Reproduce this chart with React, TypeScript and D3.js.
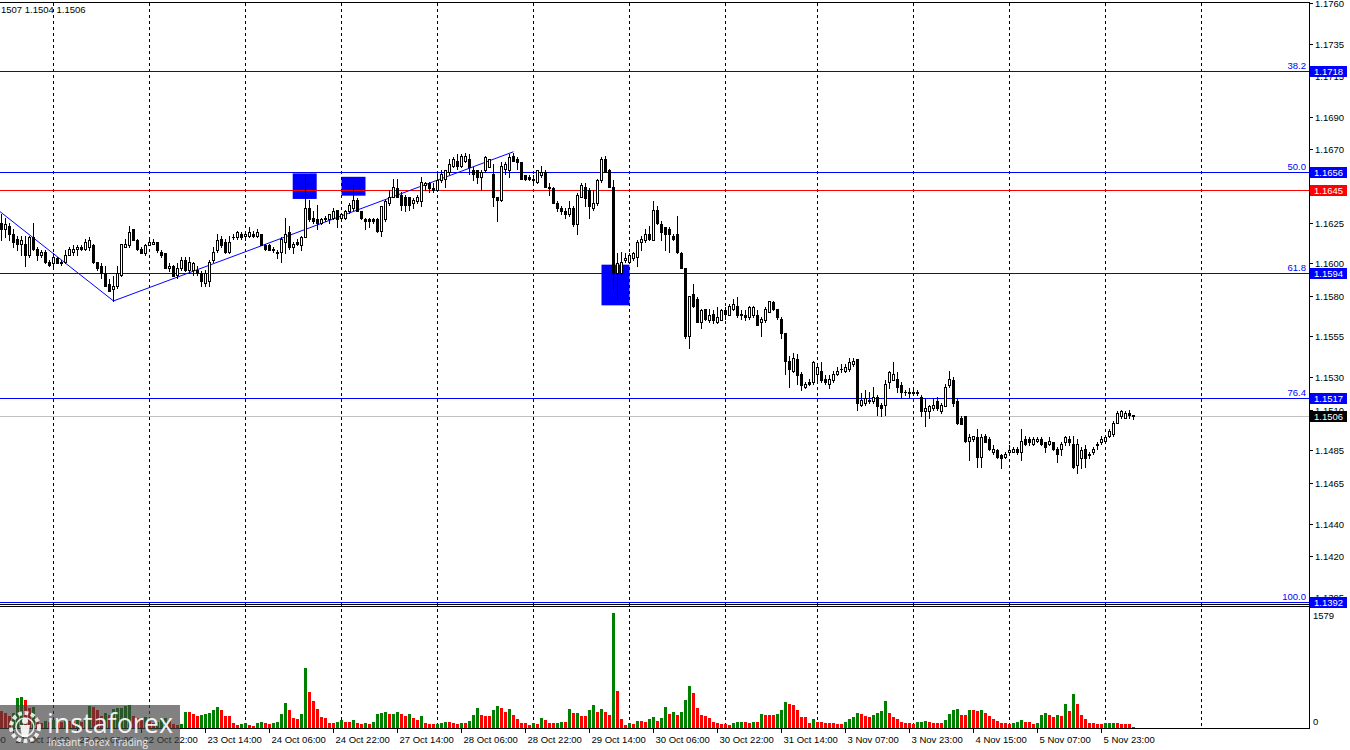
import React from "react";
import * as d3 from "d3";

// ---- OHLC data (H1 bars, index 0 = 21 Oct 11:00) ----
const opens = [
  1.1625,1.1621,1.1623,1.1618,1.1615,1.1612,1.1612,1.1605,1.1616,1.1609,
  1.1605,1.1607,1.1601,1.1600,1.1603,1.1601,1.1601,1.1605,1.1607,1.1609,
  1.1610,1.1609,1.1610,1.1611,1.1601,1.1598,1.1594,1.1587,1.1584,1.1586,
  1.1593,1.1610,1.1611,1.1621,1.1614,1.1609,1.1606,1.1611,1.1612,1.1613,
  1.1607,1.1606,1.1597,1.1598,1.1593,1.1597,1.1602,1.1596,1.1596,1.1596,
  1.1594,1.1588,1.1589,1.1602,1.1608,1.1615,1.1613,1.1607,1.1616,1.1616,
  1.1618,1.1617,1.1617,1.1618,1.1617,1.1618,1.1611,1.1611,1.1609,1.1607,
  1.1607,1.1613,1.1619,1.1610,1.1613,1.1611,1.1616,1.1634,1.1628,1.1627,
  1.1625,1.1627,1.1627,1.1628,1.1633,1.1628,1.1628,1.1632,1.1634,1.1639,
  1.1632,1.1627,1.1627,1.1627,1.1627,1.1620,1.1627,1.1637,1.1641,1.1646,
  1.1642,1.1641,1.1641,1.1637,1.1638,1.1638,1.1648,1.1649,1.1646,1.1645,
  1.1651,1.1652,1.1656,1.1660,1.1663,1.1660,1.1663,1.1664,1.1657,1.1657,
  1.1653,1.1657,1.1659,1.1655,1.1641,1.1639,1.1658,1.1657,1.1666,1.1664,
  1.1662,1.1654,1.1653,1.1652,1.1650,1.1654,1.1656,1.1647,1.1646,1.1637,
  1.1634,1.1632,1.1630,1.1634,1.1624,1.1641,1.1647,1.1645,1.1634,1.1637,
  1.1651,1.1664,1.1657,1.1647,1.1594,1.1594,1.1602,1.1601,1.1603,1.1604,
  1.1613,1.1614,1.1618,1.1614,1.1633,1.1624,1.1622,1.1621,1.1617,1.1618,
  1.1606,1.1597,1.1555,1.1581,1.1578,1.1564,1.1572,1.1565,1.1569,1.1564,
  1.1565,1.1571,1.1568,1.1572,1.1574,1.1569,1.1568,1.1567,1.1568,1.1568,
  1.1564,1.1565,1.1570,1.1576,1.1572,1.1566,1.1557,1.1540,1.1534,1.1541,
  1.1532,1.1524,1.1527,1.1527,1.1532,1.1534,1.1529,1.1526,1.1528,1.1532,
  1.1535,1.1534,1.1535,1.1538,1.1541,1.1513,1.1514,1.1516,1.1515,1.1518,
  1.1513,1.1513,1.1527,1.1528,1.1529,1.1525,1.1521,1.1521,1.1520,1.1521,
  1.1518,1.1509,1.1509,1.1511,1.1515,1.1509,1.1512,1.1525,1.1528,1.1515,
  1.1505,1.1506,1.1491,1.1492,1.1493,1.1481,1.1494,1.1492,1.1484,1.1485,
  1.1482,1.1481,1.1484,1.1484,1.1486,1.1484,1.1492,1.1492,1.1489,1.1491,
  1.1492,1.1490,1.1489,1.1490,1.1486,1.1486,1.1490,1.1492,1.1489,1.1476,
  1.1480,1.1486,1.1483,1.1484,1.1488,1.1490,1.1491,1.1494,1.1495,1.1502,
  1.1506,1.1505,1.1508,1.1507,
];
const highs = [
  1.1630,1.1628,1.1625,1.1621,1.1617,1.1617,1.1617,1.1617,1.1625,1.1610,
  1.1608,1.1608,1.1602,1.1606,1.1604,1.1602,1.1608,1.1610,1.1611,1.1611,
  1.1611,1.1615,1.1616,1.1612,1.1601,1.1600,1.1598,1.1590,1.1592,1.1598,
  1.1612,1.1615,1.1623,1.1621,1.1615,1.1610,1.1612,1.1615,1.1615,1.1613,
  1.1608,1.1606,1.1600,1.1599,1.1600,1.1604,1.1604,1.1604,1.1601,1.1598,
  1.1595,1.1596,1.1602,1.1610,1.1618,1.1617,1.1615,1.1617,1.1618,1.1620,
  1.1619,1.1620,1.1622,1.1620,1.1621,1.1618,1.1612,1.1612,1.1610,1.1608,
  1.1616,1.1628,1.1623,1.1613,1.1615,1.1617,1.1654,1.1639,1.1632,1.1636,
  1.1628,1.1629,1.1630,1.1634,1.1633,1.1630,1.1633,1.1637,1.1648,1.1640,
  1.1632,1.1628,1.1628,1.1628,1.1628,1.1635,1.1639,1.1645,1.1652,1.1652,
  1.1644,1.1642,1.1641,1.1640,1.1642,1.1653,1.1650,1.1650,1.1649,1.1656,
  1.1657,1.1657,1.1664,1.1665,1.1667,1.1667,1.1668,1.1667,1.1659,1.1657,
  1.1657,1.1666,1.1664,1.1661,1.1641,1.1662,1.1662,1.1667,1.1668,1.1665,
  1.1662,1.1654,1.1654,1.1654,1.1657,1.1660,1.1657,1.1649,1.1647,1.1638,
  1.1635,1.1634,1.1638,1.1635,1.1643,1.1649,1.1649,1.1646,1.1645,1.1652,
  1.1665,1.1666,1.1658,1.1651,1.1606,1.1607,1.1606,1.1606,1.1607,1.1614,
  1.1617,1.1621,1.1623,1.1638,1.1635,1.1626,1.1622,1.1622,1.1618,1.1629,
  1.1607,1.1597,1.1580,1.1587,1.1579,1.1572,1.1572,1.1572,1.1571,1.1573,
  1.1572,1.1573,1.1575,1.1578,1.1579,1.1571,1.1571,1.1574,1.1574,1.1571,
  1.1567,1.1573,1.1577,1.1577,1.1572,1.1567,1.1557,1.1543,1.1545,1.1544,
  1.1533,1.1527,1.1529,1.1540,1.1537,1.1539,1.1531,1.1531,1.1534,1.1536,
  1.1538,1.1538,1.1542,1.1542,1.1541,1.1520,1.1522,1.1521,1.1524,1.1519,
  1.1514,1.1528,1.1534,1.1539,1.1533,1.1527,1.1522,1.1523,1.1523,1.1522,
  1.1519,1.1517,1.1513,1.1517,1.1518,1.1514,1.1526,1.1534,1.1530,1.1517,
  1.1506,1.1506,1.1495,1.1494,1.1498,1.1495,1.1495,1.1493,1.1488,1.1486,
  1.1483,1.1484,1.1488,1.1487,1.1487,1.1498,1.1494,1.1493,1.1493,1.1493,
  1.1493,1.1490,1.1493,1.1490,1.1487,1.1490,1.1494,1.1494,1.1494,1.1492,
  1.1487,1.1488,1.1484,1.1487,1.1490,1.1494,1.1494,1.1498,1.1503,1.1509,
  1.1510,1.1509,1.1510,1.1507,
];
const lows = [
  1.1614,1.1616,1.1614,1.1610,1.1608,1.1605,1.1598,1.1604,1.1608,1.1602,
  1.1604,1.1600,1.1598,1.1598,1.1600,1.1599,1.1600,1.1605,1.1605,1.1605,
  1.1608,1.1608,1.1608,1.1600,1.1596,1.1591,1.1586,1.1583,1.1577,1.1585,
  1.1592,1.1610,1.1610,1.1614,1.1608,1.1606,1.1605,1.1611,1.1612,1.1607,
  1.1604,1.1597,1.1595,1.1592,1.1591,1.1596,1.1595,1.1594,1.1593,1.1593,
  1.1586,1.1586,1.1586,1.1601,1.1607,1.1610,1.1606,1.1606,1.1615,1.1615,
  1.1615,1.1614,1.1616,1.1616,1.1616,1.1611,1.1608,1.1608,1.1607,1.1603,
  1.1601,1.1606,1.1609,1.1606,1.1611,1.1608,1.1616,1.1626,1.1625,1.1621,
  1.1624,1.1626,1.1625,1.1627,1.1622,1.1627,1.1627,1.1631,1.1633,1.1632,
  1.1627,1.1621,1.1622,1.1625,1.1619,1.1617,1.1626,1.1636,1.1641,1.1641,
  1.1633,1.1632,1.1633,1.1634,1.1637,1.1635,1.1645,1.1644,1.1644,1.1645,
  1.1650,1.1647,1.1655,1.1659,1.1658,1.1659,1.1662,1.1655,1.1651,1.1649,
  1.1645,1.1656,1.1659,1.1635,1.1626,1.1638,1.1655,1.1653,1.1663,1.1658,
  1.1652,1.1651,1.1651,1.1649,1.1649,1.1653,1.1647,1.1642,1.1637,1.1632,
  1.1630,1.1628,1.1629,1.1623,1.1618,1.1641,1.1635,1.1628,1.1633,1.1636,
  1.1650,1.1656,1.1647,1.1584,1.1578,1.1593,1.1601,1.1601,1.1602,1.1598,
  1.1608,1.1613,1.1614,1.1614,1.1624,1.1614,1.1608,1.1607,1.1614,1.1606,
  1.1597,1.1554,1.1548,1.1573,1.1564,1.1560,1.1565,1.1564,1.1563,1.1563,
  1.1565,1.1566,1.1568,1.1571,1.1567,1.1566,1.1565,1.1566,1.1567,1.1562,
  1.1555,1.1564,1.1570,1.1571,1.1566,1.1554,1.1532,1.1524,1.1533,1.1526,
  1.1522,1.1523,1.1525,1.1526,1.1527,1.1527,1.1526,1.1523,1.1527,1.1531,
  1.1533,1.1533,1.1534,1.1537,1.1510,1.1512,1.1513,1.1514,1.1514,1.1507,
  1.1506,1.1507,1.1523,1.1528,1.1521,1.1518,1.1519,1.1518,1.1519,1.1519,
  1.1506,1.1500,1.1505,1.1510,1.1510,1.1508,1.1512,1.1524,1.1512,1.1501,
  1.1501,1.1490,1.1479,1.1491,1.1475,1.1475,1.1490,1.1485,1.1483,1.1480,
  1.1474,1.1480,1.1483,1.1484,1.1483,1.1479,1.1488,1.1488,1.1488,1.1490,
  1.1488,1.1484,1.1488,1.1485,1.1478,1.1482,1.1488,1.1488,1.1474,1.1471,
  1.1474,1.1475,1.1480,1.1483,1.1486,1.1489,1.1490,1.1493,1.1494,1.1502,
  1.1505,1.1505,1.1505,1.1504,
];
const closes = [
  1.1621,1.1624,1.1618,1.1613,1.1612,1.1614,1.1605,1.1616,1.1609,1.1605,
  1.1607,1.1601,1.1599,1.1604,1.1600,1.1600,1.1605,1.1609,1.1609,1.1610,
  1.1609,1.1613,1.1614,1.1601,1.1597,1.1594,1.1586,1.1583,1.1586,1.1594,
  1.1612,1.1612,1.1619,1.1614,1.1609,1.1606,1.1611,1.1613,1.1613,1.1608,
  1.1605,1.1597,1.1598,1.1592,1.1597,1.1602,1.1596,1.1601,1.1600,1.1594,
  1.1589,1.1594,1.1601,1.1607,1.1614,1.1611,1.1607,1.1613,1.1616,1.1619,
  1.1616,1.1618,1.1619,1.1617,1.1619,1.1611,1.1609,1.1608,1.1608,1.1606,
  1.1615,1.1618,1.1610,1.1612,1.1612,1.1616,1.1634,1.1627,1.1626,1.1625,
  1.1627,1.1628,1.1630,1.1632,1.1627,1.1630,1.1632,1.1636,1.1639,1.1632,
  1.1628,1.1626,1.1626,1.1626,1.1620,1.1635,1.1638,1.1641,1.1647,1.1641,
  1.1636,1.1636,1.1636,1.1639,1.1641,1.1650,1.1649,1.1646,1.1645,1.1651,
  1.1655,1.1657,1.1661,1.1664,1.1660,1.1666,1.1666,1.1659,1.1655,1.1653,
  1.1656,1.1665,1.1664,1.1641,1.1639,1.1660,1.1661,1.1665,1.1663,1.1662,
  1.1652,1.1652,1.1652,1.1651,1.1657,1.1656,1.1647,1.1646,1.1637,1.1634,
  1.1632,1.1630,1.1634,1.1624,1.1642,1.1648,1.1640,1.1635,1.1637,1.1651,
  1.1664,1.1656,1.1647,1.1594,1.1600,1.1601,1.1603,1.1605,1.1606,1.1613,
  1.1615,1.1618,1.1615,1.1633,1.1625,1.1619,1.1618,1.1618,1.1615,1.1607,
  1.1597,1.1555,1.1580,1.1574,1.1564,1.1571,1.1566,1.1568,1.1565,1.1567,
  1.1571,1.1569,1.1574,1.1575,1.1568,1.1568,1.1567,1.1573,1.1573,1.1562,
  1.1566,1.1572,1.1577,1.1572,1.1567,1.1557,1.1540,1.1535,1.1542,1.1531,
  1.1525,1.1526,1.1526,1.1539,1.1536,1.1528,1.1527,1.1529,1.1532,1.1534,
  1.1535,1.1536,1.1539,1.1540,1.1514,1.1516,1.1517,1.1515,1.1518,1.1512,
  1.1511,1.1526,1.1533,1.1532,1.1524,1.1521,1.1521,1.1520,1.1521,1.1520,
  1.1509,1.1511,1.1512,1.1513,1.1511,1.1513,1.1524,1.1529,1.1514,1.1502,
  1.1501,1.1491,1.1493,1.1494,1.1481,1.1493,1.1490,1.1486,1.1486,1.1481,
  1.1480,1.1483,1.1485,1.1486,1.1484,1.1491,1.1489,1.1490,1.1492,1.1492,
  1.1489,1.1487,1.1491,1.1486,1.1483,1.1489,1.1493,1.1490,1.1475,1.1489,
  1.1485,1.1480,1.1482,1.1486,1.1489,1.1492,1.1493,1.1497,1.1502,1.1508,
  1.1509,1.1508,1.1507,1.1506,
];
const volumes = [
  235,208,166,208,411,430,384,277,291,139,
  69,97,83,111,97,83,125,97,83,111,
  83,125,300,290,245,166,200,180,259,273,
  281,300,309,166,143,120,150,90,70,85,
  110,140,100,60,40,60,226,220,198,162,
  180,190,208,245,295,245,166,160,69,45,
  55,69,37,32,69,83,65,60,69,88,
  189,337,245,143,130,198,817,489,374,259,
  152,143,74,69,88,106,88,85,106,65,
  55,69,55,88,194,212,222,189,199,222,
  199,166,189,143,115,171,69,55,50,60,
  69,83,78,65,60,69,65,97,180,272,
  180,166,160,249,305,272,226,259,180,120,
  69,65,42,69,51,134,106,69,65,74,
  83,78,259,203,212,166,160,249,319,217,
  259,222,175,1579,512,125,42,65,60,97,
  92,78,125,152,97,143,282,199,226,180,
  226,383,582,485,272,180,166,143,83,69,
  60,55,42,69,83,85,83,69,83,80,
  189,180,178,176,189,245,360,328,319,249,
  157,150,69,120,88,85,69,65,62,58,
  50,83,120,150,200,190,170,150,175,200,
  235,374,212,157,120,83,74,69,60,83,
  88,97,83,69,65,62,111,189,249,263,
  180,175,249,245,240,249,212,166,125,97,
  69,65,60,69,88,106,88,85,60,69,
  180,208,180,152,180,171,328,235,466,328,
  175,120,65,62,55,52,69,72,75,62,
  58,55,50,10,
];

// ---- axes / annotations ----
const dayStartIdx = [13, 37, 61, 85, 109, 133, 157, 181, 204, 228, 252, 276, 300];
const timeLabelIdx = [-13, 3, 19, 35, 51, 67, 83, 99, 115, 131, 147, 163, 179, 195, 211, 227, 243, 259, 275];
const timeLabels = [
  "20 Oct 22:00", "21 Oct 14:00", "22 Oct 06:00", "22 Oct 22:00", "23 Oct 14:00",
  "24 Oct 06:00", "24 Oct 22:00", "27 Oct 14:00", "28 Oct 06:00", "28 Oct 22:00",
  "29 Oct 14:00", "30 Oct 06:00", "30 Oct 22:00", "31 Oct 14:00", "3 Nov 07:00",
  "3 Nov 23:00", "4 Nov 15:00", "5 Nov 07:00", "5 Nov 23:00",
];
const priceTicks = [1.1760, 1.1735, 1.1715, 1.1690, 1.1670, 1.1625, 1.1600, 1.1580, 1.1555, 1.1530, 1.1510, 1.1485, 1.1465, 1.1440, 1.1420, 1.1395];
const fibNames = ["38.2", "50.0", "61.8", "76.4", "100.0"];
const fibPrices = [1.1718, 1.1656, 1.1594, 1.1517, 1.1392];
const redLevel = 1.1645;
const bidLevel = 1.1506;
const zigzagIdx = [-0.375, 28, 128];
const zigzagPrice = [1.16317, 1.15768, 1.16685];
const zoneStart = [72.8, 85, 150];
const zoneEnd = [78.8, 91, 157];
const zoneTop = [1.16552, 1.16531, 1.15991];
const zoneBottom = [1.16395, 1.16415, 1.15741];
const volumeMax = 1579;
const headerText = "1507 1.1504 1.1506";

const FONT = "'Liberation Sans', Arial, sans-serif";
const BLUE = "#0000ff";

export default function App() {
  const x = d3.scaleLinear().domain([-0.375, 326.625]).range([0, 1308]);
  const y = d3.scaleLinear().domain([1.1392, 1.176]).range([601.6, 2.9]);
  const vy = d3.scaleLinear().domain([0, volumeMax]).range([728, 613]);
  const ry = (p: number) => Math.round(y(p));
  const hy = (p: number) => Math.round(y(p)) + 0.5;
  const n = Math.min(opens.length, highs.length, lows.length, closes.length);
  const idx = d3.range(n);
  const zz = d3.line<number>().x((i) => x(zigzagIdx[i])).y((i) => y(zigzagPrice[i]));

  const priceBox = (p: number, fill: string, key: string) => {
    const cy = y(p);
    return (
      <g key={key}>
        <rect x={1310} y={Math.round(cy) - 5} width={37} height={11} fill={fill} />
        <text x={1314} y={Math.round(cy) + 4} fontSize={9.5} fill="#fff" fontFamily={FONT}>
          {p.toFixed(4)}
        </text>
      </g>
    );
  };

  return (
    <div>
      <style>{"body{margin:0;overflow:hidden;background:#fff}"}</style>
      <svg width={1350} height={750} style={{ display: "block" }}>
        <rect x={0} y={0} width={1350} height={750} fill="#fff" />

        {/* zones (background) */}
        {zoneStart.map((s, k) => (
          <rect key={"z" + k} x={x(s)} y={y(zoneTop[k])} width={x(zoneEnd[k]) - x(s)}
            height={y(zoneBottom[k]) - y(zoneTop[k])} fill={BLUE} />
        ))}

        {/* day grid */}
        {dayStartIdx.map((d) => (
          <line key={"g" + d} x1={x(d)} x2={x(d)} y1={3} y2={728} stroke="#000" strokeDasharray="3,3" />
        ))}

        {/* fibo levels */}
        {fibPrices.map((p, k) => (
          <g key={"f" + k}>
            <line x1={0} x2={1309} y1={hy(p)} y2={hy(p)} stroke={BLUE} />
            <text x={1306} y={hy(p) - 2.5} textAnchor="end" fontSize={9.5} fill={BLUE} fontFamily={FONT}>
              {fibNames[k]}
            </text>
          </g>
        ))}
        <line x1={0} x2={1309} y1={hy(redLevel)} y2={hy(redLevel)} stroke="#ff0000" />
        <line x1={0} x2={1309} y1={hy(bidLevel)} y2={hy(bidLevel)} stroke="#c0c0c0" />

        {/* zigzag */}
        <path d={zz([0, 1, 2]) || ""} fill="none" stroke={BLUE} strokeWidth={1} />

        {/* candles */}
        {idx.map((i) => {
          const o = opens[i], c = closes[i], h = highs[i], l = lows[i];
          const cx = x(i);
          const top = ry(Math.max(o, c));
          const bot = ry(Math.min(o, c));
          const bull = c > o;
          let body;
          if (bull && bot - top >= 2) {
            body = <rect x={cx - 1} y={top + 0.5} width={2} height={bot - top} fill="#fff" stroke="#000" />;
          } else {
            body = <rect x={cx - 1.5} y={top} width={3} height={Math.max(1, bot - top + 1)} fill="#000" />;
          }
          return (
            <g key={"c" + i}>
              <line x1={cx} x2={cx} y1={ry(h)} y2={ry(l) + 1} stroke="#000" />
              {body}
            </g>
          );
        })}

        {/* volumes */}
        {idx.map((i) => {
          const v = volumes[i];
          const up = i > 0 && v > volumes[i - 1];
          const top = Math.round(vy(v));
          return (
            <rect key={"v" + i} x={x(i) - 1.5} y={top} width={3} height={Math.max(1, 728 - top)}
              fill={up ? "#008000" : "#ff0000"} />
          );
        })}

        {/* frames */}
        <line x1={0} x2={1310} y1={2.5} y2={2.5} stroke="#000" />
        <line x1={0} x2={1310} y1={604.5} y2={604.5} stroke="#000" />
        <line x1={0} x2={1310} y1={606.5} y2={606.5} stroke="#000" />
        <line x1={0} x2={1310} y1={728.5} y2={728.5} stroke="#000" />
        <line x1={1309.5} x2={1309.5} y1={2} y2={729} stroke="#000" />

        {/* price axis */}
        {priceTicks.map((p) => (
          <g key={"t" + p}>
            <line x1={1310} x2={1313} y1={hy(p)} y2={hy(p)} stroke="#000" />
            <text x={1315} y={ry(p) + 4} fontSize={9.5} fill="#000" fontFamily={FONT}>
              {p.toFixed(4)}
            </text>
          </g>
        ))}
        {fibPrices.map((p, k) => priceBox(p, BLUE, "pb" + k))}
        {priceBox(redLevel, "#ff0000", "pr")}
        {priceBox(bidLevel, "#000000", "pbid")}

        {/* volume axis */}
        <text x={1313} y={619} fontSize={9.5} fill="#000" fontFamily={FONT}>{String(volumeMax)}</text>
        <text x={1313} y={725} fontSize={9.5} fill="#000" fontFamily={FONT}>0</text>

        {/* time axis */}
        {timeLabelIdx.map((t, k) => (
          <g key={"tl" + k}>
            <line x1={x(t)} x2={x(t)} y1={729} y2={733} stroke="#000" />
            <text x={x(t) + 2} y={743} fontSize={9.5} fill="#000" fontFamily={FONT}>{timeLabels[k]}</text>
          </g>
        ))}

        {/* header */}
        <text x={1} y={13} fontSize={9.5} fill="#000" fontFamily={FONT}>{headerText}</text>

        {/* watermark */}
        <g>
          <rect x={0} y={705} width={180} height={45} fill="#404040" opacity={0.66} />
          <g opacity={0.85} fill="none" stroke="#fff">
            <circle cx={25} cy={727} r={14} strokeWidth={4} strokeDasharray="4,2.5" />
            <circle cx={25} cy={727} r={9} strokeWidth={1.5} />
          </g>
          <g opacity={0.9} fill="#fff">
            <circle cx={25} cy={721} r={3} />
            <path d="M20,725 L30,725 L28,737 L22,737 Z" />
          </g>
          <text x={47} y={733} fontSize={28} fill="#fff" opacity={0.9} fontFamily="'Open Sans', sans-serif"
            textLength={126} lengthAdjust="spacingAndGlyphs">instaforex</text>
          <text x={48} y={746} fontSize={11} fill="#fff" opacity={0.85} fontFamily="'Open Sans', sans-serif"
            textLength={100} lengthAdjust="spacingAndGlyphs">Instant Forex Trading</text>
        </g>
      </svg>
    </div>
  );
}
